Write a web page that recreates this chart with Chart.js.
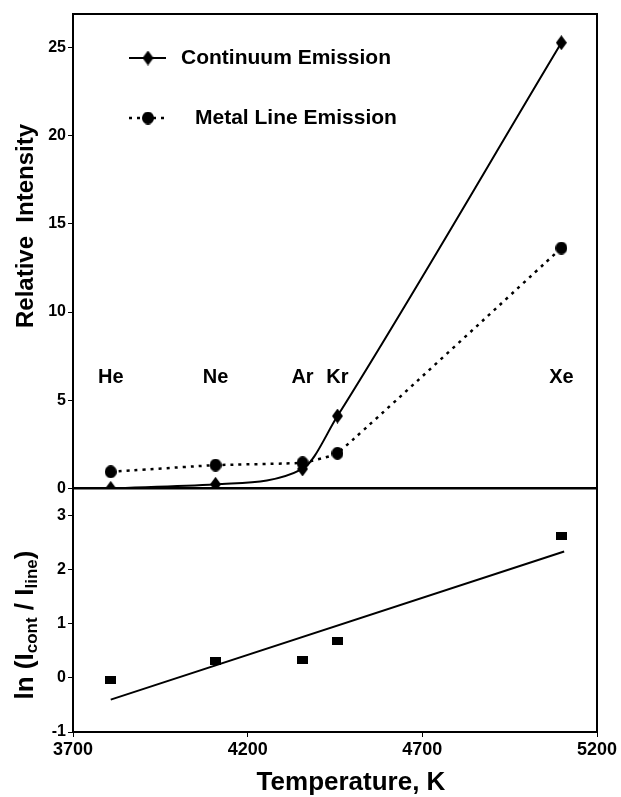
<!DOCTYPE html>
<html>
<head>
<meta charset="utf-8">
<script src="https://cdn.jsdelivr.net/npm/chart.js@4.4.1/dist/chart.umd.min.js"></script>
<style>
  html, body { margin:0; padding:0; background:#fff; }
  #wrap { width:621px; height:797px; position:relative; }
</style>
</head>
<body>
<div id="wrap"><canvas id="chart" width="621" height="797"></canvas></div>
<script>
/* ---------------------------
   Data
   --------------------------- */
const gasNames   = ['He', 'Ne', 'Ar', 'Kr', 'Xe'];
const temps      = [3808, 4108, 4357, 4457, 5098];
const continuum  = [0, 0.23, 1.1, 4.1, 25.27];
const metalLine  = [0.94, 1.32, 1.45, 1.99, 13.63];
const lnRatio    = [-0.04, 0.31, 0.34, 0.68, 2.63];
const fitTemps   = [3808, 5106];
const fitLn      = [-0.40, 2.34];
const xTicks     = [3700, 4200, 4700, 5200];
const topTicks   = [0, 5, 10, 15, 20, 25];
const lowTicks   = [-1, 0, 1, 2, 3];
const gasLabelY  = 6.3;

const FONT = '"Liberation Sans", Arial, sans-serif';

/* marker images */
function shapeCanvas(w, h, draw){
  const c = document.createElement('canvas');
  c.width = w; c.height = h;
  const g = c.getContext('2d');
  g.fillStyle = '#000';
  draw(g, w, h);
  return c;
}
const diamond = shapeCanvas(11, 15, (g,w,h)=>{
  g.beginPath(); g.moveTo(w/2,0); g.lineTo(w,h/2); g.lineTo(w/2,h); g.lineTo(0,h/2); g.closePath(); g.fill();
});
const dot = shapeCanvas(12, 13, (g,w,h)=>{
  g.beginPath(); g.ellipse(w/2,h/2,w/2,h/2,0,0,Math.PI*2); g.fill();
});
const block = shapeCanvas(11, 8, (g,w,h)=> g.fillRect(0,0,w,h));

const pts = (xs, ys) => xs.map((x,i)=>({x, y: ys[i]}));

/* ---------------------------
   Decorations plugin
   --------------------------- */
const decor = {
  id: 'decor',
  afterDraw(chart){
    const {ctx, chartArea: a, scales} = chart;
    const xs = scales.x, yt = scales.yTop;
    ctx.save();
    ctx.strokeStyle = '#000';
    ctx.fillStyle = '#000';

    // top / right frame + zero separator
    ctx.lineWidth = 2;
    ctx.beginPath();
    ctx.moveTo(a.left, a.top); ctx.lineTo(a.right, a.top); ctx.lineTo(a.right, a.bottom);
    ctx.stroke();
    ctx.lineWidth = 2.5;
    const y0 = yt.getPixelForValue(0);
    ctx.beginPath(); ctx.moveTo(a.left, y0); ctx.lineTo(a.right, y0); ctx.stroke();

    // gas names
    ctx.font = 'bold 20px ' + FONT;
    ctx.textAlign = 'center'; ctx.textBaseline = 'middle';
    gasNames.forEach((n,i)=>{
      ctx.fillText(n, xs.getPixelForValue(temps[i]), yt.getPixelForValue(gasLabelY));
    });

    // legend
    const lx = a.left + 56, ly1 = a.top + 44, ly2 = a.top + 104;
    ctx.lineWidth = 2;
    ctx.beginPath(); ctx.moveTo(lx, ly1); ctx.lineTo(lx + 37, ly1); ctx.stroke();
    ctx.drawImage(diamond, lx + 19 - diamond.width/2, ly1 - diamond.height/2);
    ctx.lineWidth = 2.5;
    ctx.setLineDash([3,5]);
    ctx.beginPath(); ctx.moveTo(lx, ly2); ctx.lineTo(lx + 40, ly2); ctx.stroke();
    ctx.setLineDash([]);
    ctx.drawImage(dot, lx + 19 - dot.width/2, ly2 - dot.height/2);
    ctx.font = 'bold 21px ' + FONT;
    ctx.textAlign = 'left';
    ctx.fillText('Continuum Emission', lx + 52, ly1);
    ctx.fillText('Metal Line Emission', lx + 66, ly2);

    // x title
    ctx.font = 'bold 26px ' + FONT;
    ctx.textAlign = 'center';
    ctx.fillText('Temperature, K', 351, 783);

    // top y title
    ctx.save();
    ctx.translate(26, 226);
    ctx.rotate(-Math.PI/2);
    ctx.font = 'bold 24px ' + FONT;
    ctx.fillText('Relative  Intensity', 0, 0);
    ctx.restore();

    // bottom y title with subscripts
    ctx.save();
    ctx.translate(26, 625);
    ctx.rotate(-Math.PI/2);
    const big = 'bold 26px ' + FONT, small = 'bold 17px ' + FONT;
    const parts = [['ln (I', big, 0], ['cont', small, 6], [' / I', big, 0], ['line', small, 6], [')', big, 0]];
    let total = 0;
    parts.forEach(p => { ctx.font = p[1]; total += ctx.measureText(p[0]).width; });
    let px = -total/2;
    ctx.textAlign = 'left';
    parts.forEach(p => {
      ctx.font = p[1];
      ctx.fillText(p[0], px, p[2]);
      px += ctx.measureText(p[0]).width;
    });
    ctx.restore();

    ctx.restore();
  }
};

/* ---------------------------
   Chart
   --------------------------- */
const axisCommon = {
  border: { color:'#000', width:2 },
  grid: { drawOnChartArea:false, color:'#000', lineWidth:1, tickLength:5 },
};
const plain = v => String(v);

new Chart(document.getElementById('chart'), {
  type: 'line',
  data: {
    datasets: [
      { label:'Continuum Emission', data: pts(temps, continuum), yAxisID:'yTop',
        borderColor:'#000', borderWidth:2, cubicInterpolationMode:'monotone',
        pointStyle: diamond, pointRadius:6, backgroundColor:'#000' },
      { label:'Metal Line Emission', data: pts(temps, metalLine), yAxisID:'yTop',
        borderColor:'#000', borderWidth:2.5, borderDash:[3,5], tension:0.1,
        pointStyle: dot, pointRadius:6, backgroundColor:'#000' },
      { label:'ln ratio', data: pts(temps, lnRatio), yAxisID:'yLow', showLine:false,
        pointStyle: block, pointRadius:6, backgroundColor:'#000', borderColor:'#000' },
      { label:'fit', data: pts(fitTemps, fitLn), yAxisID:'yLow',
        borderColor:'#000', borderWidth:2, pointRadius:0 }
    ]
  },
  options: {
    responsive:false,
    animation:false,
    layout: { padding: { left:0, top:14, right:24, bottom:0 } },
    plugins: { legend:{display:false}, tooltip:{enabled:false} },
    scales: {
      x: Object.assign({}, axisCommon, {
        type:'linear', min:3700, max:5200,
        afterBuildTicks: s => { s.ticks = xTicks.map(v=>({value:v})); },
        afterFit: s => { s.height = 65; },
        ticks: { color:'#000', font:{ family:FONT, size:18, weight:'bold' }, padding:2, maxRotation:0, callback: plain }
      }),
      yLow: Object.assign({}, axisCommon, {
        type:'linear', position:'left', stack:'v', stackWeight:1,
        min:-1, max:3.51,
        afterBuildTicks: s => { s.ticks = lowTicks.map(v=>({value:v})); },
        afterFit: s => { s.width = 73; },
        ticks: { color:'#000', font:{ family:FONT, size:16, weight:'bold' }, padding:2, callback: plain }
      }),
      yTop: Object.assign({}, axisCommon, {
        type:'linear', position:'left', stack:'v', stackWeight:1.947,
        min:0, max:26.9,
        afterBuildTicks: s => { s.ticks = topTicks.map(v=>({value:v})); },
        afterFit: s => { s.width = 73; },
        ticks: { color:'#000', font:{ family:FONT, size:16, weight:'bold' }, padding:2, callback: plain }
      })
    }
  },
  plugins: [decor]
});
</script>
</body>
</html>
